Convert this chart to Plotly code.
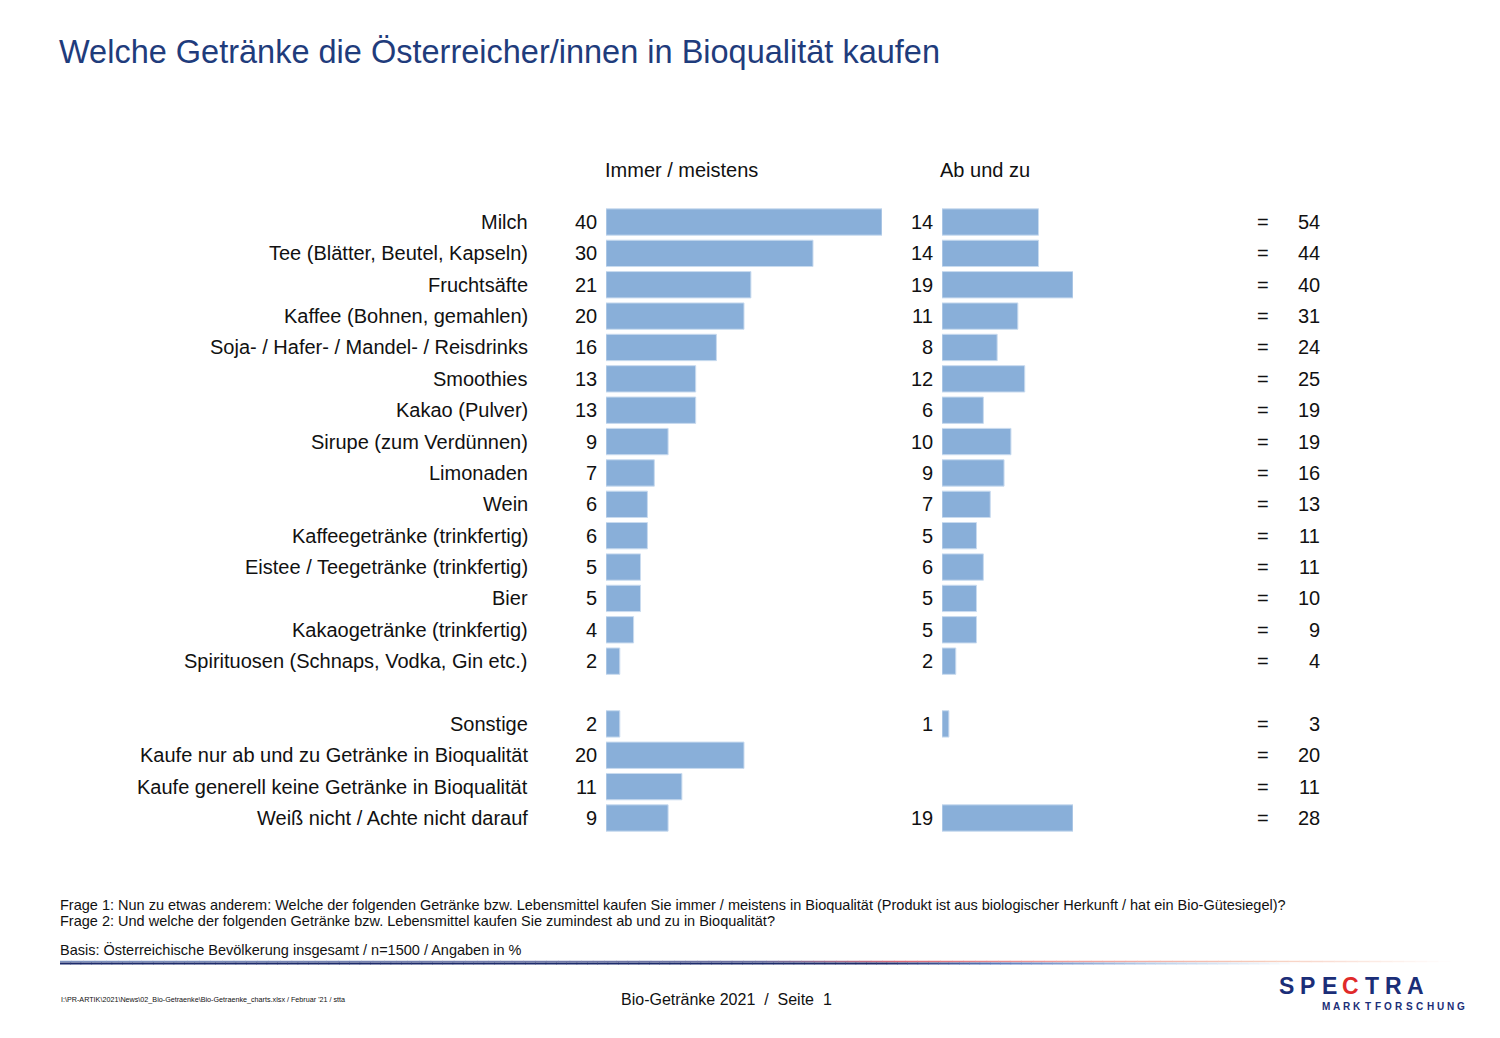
import plotly.graph_objects as go

# ---------------- data ----------------
categories = [
    "Milch",
    "Tee (Blätter, Beutel, Kapseln)",
    "Fruchtsäfte",
    "Kaffee (Bohnen, gemahlen)",
    "Soja- / Hafer- / Mandel- / Reisdrinks",
    "Smoothies",
    "Kakao (Pulver)",
    "Sirupe (zum Verdünnen)",
    "Limonaden",
    "Wein",
    "Kaffeegetränke (trinkfertig)",
    "Eistee / Teegetränke (trinkfertig)",
    "Bier",
    "Kakaogetränke (trinkfertig)",
    "Spirituosen (Schnaps, Vodka, Gin etc.)",
    "Sonstige",
    "Kaufe nur ab und zu Getränke in Bioqualität",
    "Kaufe generell keine Getränke in Bioqualität",
    "Weiß nicht / Achte nicht darauf",
]
immer_meistens = [40, 30, 21, 20, 16, 13, 13, 9, 7, 6, 6, 5, 5, 4, 2, 2, 20, 11, 9]
ab_und_zu = [14, 14, 19, 11, 8, 12, 6, 10, 9, 7, 5, 6, 5, 5, 2, 1, None, None, 19]
gesamt = [54, 44, 40, 31, 24, 25, 19, 19, 16, 13, 11, 11, 10, 9, 4, 3, 20, 11, 28]
series_names = ["Immer / meistens", "Ab und zu"]

title = "Welche Getränke die Österreicher/innen in Bioqualität kaufen"
frage1 = ("Frage 1: Nun zu etwas anderem: Welche der folgenden Getränke bzw. Lebensmittel kaufen Sie immer / "
          "meistens in Bioqualität (Produkt ist aus biologischer Herkunft / hat ein Bio-Gütesiegel)?")
frage2 = "Frage 2: Und welche der folgenden Getränke bzw. Lebensmittel kaufen Sie zumindest ab und zu in Bioqualität?"
basis = "Basis: Österreichische Bevölkerung insgesamt / n=1500 / Angaben in %"
pfad = "I:\\PR-ARTIK\\2021\\News\\02_Bio-Getraenke\\Bio-Getraenke_charts.xlsx / Februar '21 / stta"
seite = "Bio-Getränke 2021  /  Seite  1"

# ---------------- layout helpers ----------------
W, H = 1500, 1038
OFF = 8  # page body margin
FONT = "Liberation Sans, Arial, sans-serif"
BAR = "#89AFD9"
NAVY = "#1F3C7C"


def fx(px):
    return (px - OFF) / W


def fy(py):
    return 1 - (py - OFF) / H


# row positions: gap row after the 15 beverage items
pos = [i if i < 15 else i + 1 for i in range(len(categories))]
n_rows = pos[-1] + 1
row_top_px, row_bot_px = 222, 818
step = (row_bot_px - row_top_px) / (n_rows - 1)
y_dom = [fy(row_bot_px + step / 2), fy(row_top_px - step / 2)]

fig = go.Figure()
fig.add_trace(go.Bar(
    x=immer_meistens, y=pos, orientation="h", name=series_names[0],
    marker=dict(color=BAR, line=dict(color="#C9DBEF", width=1)),
    width=0.84, xaxis="x", yaxis="y", hoverinfo="x+name",
))
fig.add_trace(go.Bar(
    x=ab_und_zu, y=pos, orientation="h", name=series_names[1],
    marker=dict(color=BAR, line=dict(color="#C9DBEF", width=1)),
    width=0.84, xaxis="x2", yaxis="y", hoverinfo="x+name",
))

ann = []


def txt(x, y, s, size=20, anchor="left", color="#111111", yref="paper", bold=False, vanchor="middle"):
    ann.append(dict(
        x=x, y=y, xref="paper", yref=yref, text=("<b>%s</b>" % s) if bold else s,
        showarrow=False, xanchor=anchor, yanchor=vanchor,
        font=dict(family=FONT, size=size, color=color),
    ))


for c, p, a, b, t in zip(categories, pos, immer_meistens, ab_und_zu, gesamt):
    txt(fx(530), p, c, anchor="right", yref="y")
    txt(fx(599), p, str(a), anchor="right", yref="y")
    if b is not None:
        txt(fx(935), p, str(b), anchor="right", yref="y")
    txt(fx(1263), p, "=", anchor="center", yref="y")
    txt(fx(1322), p, str(t), anchor="right", yref="y")

txt(fx(603), fy(170), series_names[0])
txt(fx(938), fy(170), series_names[1])
txt(fx(57), fy(52), title, size=32.5, color=NAVY)
txt(fx(58), fy(905), frage1, size=14.5)
txt(fx(58), fy(921), frage2, size=14.5)
txt(fx(58), fy(949), basis, size=14.5)
txt(fx(59), fy(999), pfad, size=7.2)
txt(fx(726), fy(999), seite, size=16, anchor="center")

# logo
logo_navy = "#1B2E78"
for i, ch in enumerate("SPECTRA"):
    txt(fx(1286 + i * 21.5), fy(986), ch, size=23, anchor="center",
        color="#E02A2A" if ch == "C" else logo_navy, bold=True)
for i, ch in enumerate("MARKTFORSCHUNG"):
    txt(fx(1326 + i * 10.4), fy(1006), ch, size=10, anchor="center", color=logo_navy, bold=True)


# separator line with colour gradient
def hex2rgb(h):
    h = h.lstrip("#")
    return tuple(int(h[i:i + 2], 16) for i in (0, 2, 4))


def grad_shapes(stops, ypx, width, nseg=120):
    x0, x1 = stops[0][0], stops[-1][0]
    shapes = []
    for k in range(nseg):
        a = x0 + (x1 - x0) * k / nseg
        b = x0 + (x1 - x0) * (k + 1) / nseg
        m = (a + b) / 2
        for j in range(len(stops) - 1):
            if stops[j][0] <= m <= stops[j + 1][0]:
                t = (m - stops[j][0]) / (stops[j + 1][0] - stops[j][0])
                c0, c1 = hex2rgb(stops[j][1]), hex2rgb(stops[j + 1][1])
                col = tuple(round(c0[i] + (c1[i] - c0[i]) * t) for i in range(3))
                break
        shapes.append(dict(type="line", xref="paper", yref="paper",
                           x0=fx(a), x1=fx(b + 0.5), y0=fy(ypx), y1=fy(ypx),
                           line=dict(color="rgb(%d,%d,%d)" % col, width=width)))
    return shapes


shapes = []
shapes += grad_shapes([(60, "#7F93BF"), (760, "#6C6F9F"), (900, "#D86A78"), (1050, "#EE9A98"),
                       (1250, "#F6C9B8"), (1450, "#FFFFFF")], 961.5, 1.5)
shapes += grad_shapes([(60, "#1D2B6B"), (880, "#1D2B6B"), (1000, "#5D7DBF"), (1150, "#B9CFEA"),
                       (1300, "#FFFFFF")], 963.5, 2)

fig.update_layout(
    width=W, height=H, autosize=False,
    margin=dict(l=0, r=0, t=0, b=0),
    paper_bgcolor="white", plot_bgcolor="white",
    showlegend=False, barmode="overlay",
    xaxis=dict(domain=[fx(606), fx(882)], range=[0, 40], visible=False, fixedrange=True),
    xaxis2=dict(domain=[fx(942), fx(1073)], range=[0, 19], visible=False, fixedrange=True),
    yaxis=dict(domain=y_dom, range=[n_rows - 0.5, -0.5], visible=False, fixedrange=True),
    annotations=ann,
    shapes=shapes,
)

fig.write_html("out.html")
